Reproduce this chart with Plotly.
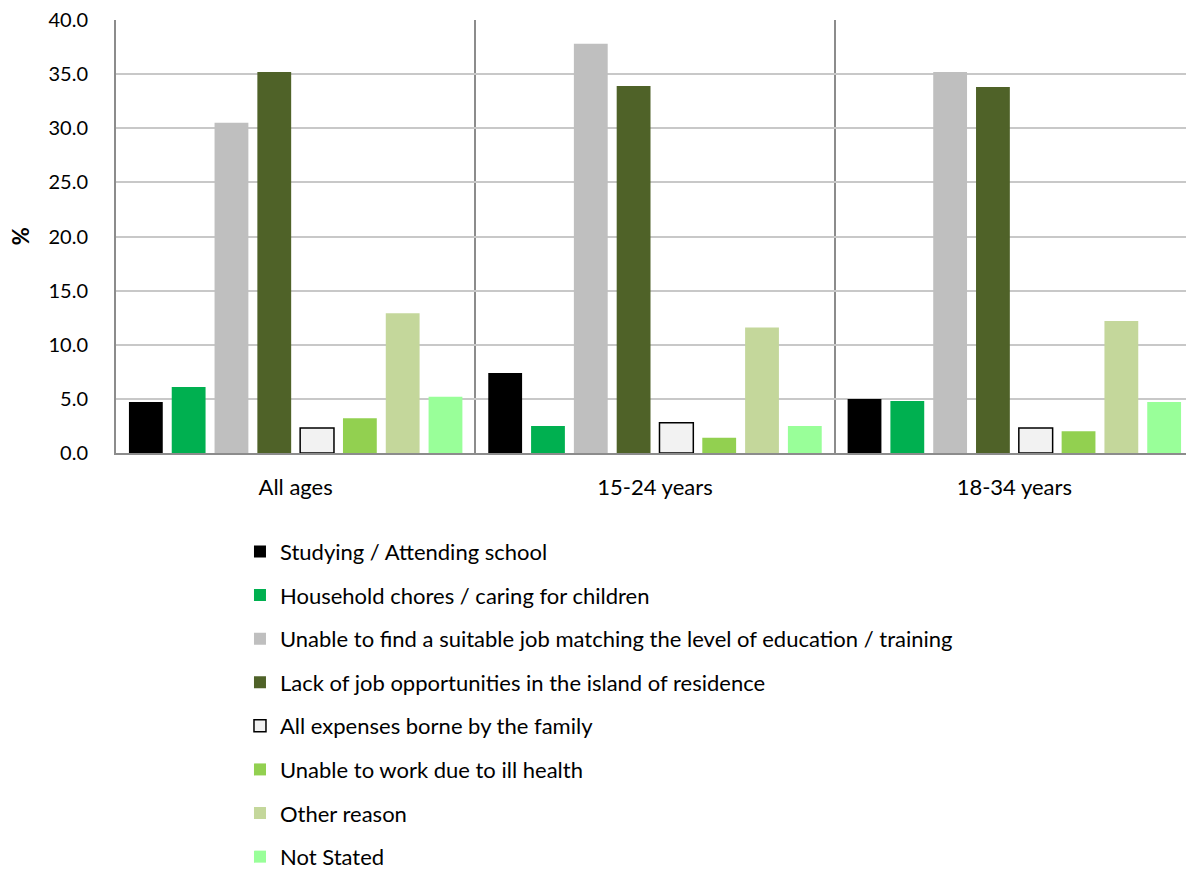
import plotly.graph_objects as go

categories = ["All ages", "15-24 years", "18-34 years"]

series_names = [
    "Studying / Attending school",
    "Household chores / caring for children",
    "Unable to find a suitable job matching the level of education / training",
    "Lack of job opportunities in the island of residence",
    "All expenses borne by the family",
    "Unable to work due to ill health",
    "Other reason",
    "Not Stated",
]

studying = [4.7, 7.4, 5.0]
household = [6.1, 2.5, 4.8]
unable_job = [30.5, 37.8, 35.2]
lack_jobs = [35.2, 33.9, 33.8]
expenses_family = [2.3, 2.8, 2.3]
ill_health = [3.2, 1.4, 2.0]
other_reason = [12.9, 11.6, 12.2]
not_stated = [5.2, 2.5, 4.7]

series_values = [studying, household, unable_job, lack_jobs,
                 expenses_family, ill_health, other_reason, not_stated]

colors = ["#000000", "#00B050", "#BFBFBF", "#4F6228",
          "#F2F2F2", "#92D050", "#C4D79B", "#99FF99"]

y_ticks = [0, 5, 10, 15, 20, 25, 30, 35, 40]

FONT = "Lato, 'Open Sans', sans-serif"

fig = go.Figure()
for i, (name, vals, col) in enumerate(zip(series_names, series_values, colors)):
    line_w = 1.5 if name == "All expenses borne by the family" else 0
    fig.add_trace(go.Bar(
        x=categories, y=vals, name=name,
        marker=dict(color=col, line=dict(color="#000000", width=line_w)),
        legendgroup=f"g{i}",
    ))

fig.add_annotation(
    text="<b>%</b>", xref="paper", yref="paper",
    x=-0.089, y=0.501, xanchor="center", yanchor="middle",
    textangle=-90, showarrow=False,
    font=dict(family=FONT, size=22, color="#000000"),
)

fig.update_layout(
    width=1186, height=861,
    barmode="group",
    bargap=0.047,
    bargroupgap=0.21,
    plot_bgcolor="white",
    paper_bgcolor="white",
    margin=dict(l=108, r=0, t=12, b=416, autoexpand=False),
    font=dict(family=FONT, size=22, color="#000000"),
    showlegend=True,
    legend=dict(
        xref="container", yref="container",
        x=0.1956, y=0.393, xanchor="left", yanchor="top",
        font=dict(family=FONT, size=22, color="#000000"),
        tracegroupgap=12,
        itemwidth=30,
        traceorder="grouped",
        bgcolor="rgba(0,0,0,0)",
    ),
    xaxis=dict(
        type="category",
        tickson="boundaries",
        showgrid=True, gridcolor="#8C8C8C", gridwidth=1.5,
        showline=True, linecolor="#8C8C8C", linewidth=2,
        ticks="", ticklabelstandoff=14,
        tickfont=dict(family=FONT, size=22),
        tickangle=0,
        range=[-0.5, 2.5],
    ),
    yaxis=dict(
        range=[0, 40],
        tickvals=y_ticks,
        tickformat=".1f",
        showgrid=True, gridcolor="#C8C8C8", gridwidth=1.5,
        showline=True, linecolor="#8C8C8C", linewidth=2,
        zeroline=False,
        ticks="", ticklabelstandoff=22,
        ticklabeloverflow="allow",
        tickfont=dict(family=FONT, size=20),
    ),
)

fig.write_html("out.html")
